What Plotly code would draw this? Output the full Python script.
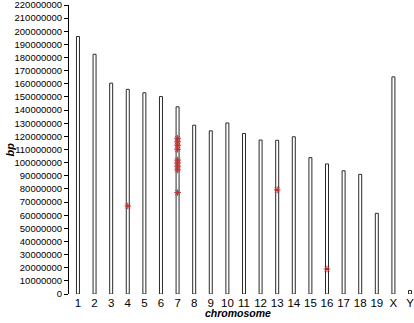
import plotly.graph_objects as go

chromosomes = ["1", "2", "3", "4", "5", "6", "7", "8", "9", "10", "11", "12",
               "13", "14", "15", "16", "17", "18", "19", "X", "Y"]
lengths_bp = [196000000, 182500000, 160500000, 155800000, 153200000, 150300000,
              142500000, 128500000, 124200000, 130200000, 122200000, 117200000,
              117000000, 119700000, 103800000, 99000000, 93800000, 91100000,
              61400000, 165300000, 2700000]

marker_chrom = ["4", "7", "7", "7", "7", "7", "7", "7", "7", "7", "13", "16"]
marker_bp = [67000000, 118500000, 115800000, 113200000, 110200000, 102000000,
             99800000, 97300000, 94500000, 77200000, 79300000, 19000000]

idx = {c: i for i, c in enumerate(chromosomes)}
xpos = list(range(len(chromosomes)))
mx = [idx[c] for c in marker_chrom]

fig = go.Figure()
fig.add_trace(go.Bar(
    x=xpos, y=lengths_bp, width=0.18,
    marker=dict(color="white", line=dict(color="#2b2b2b", width=1)),
    hoverinfo="skip", showlegend=False,
))
fig.add_trace(go.Scatter(
    x=mx, y=marker_bp, mode="markers",
    marker=dict(symbol="asterisk-open", size=5.5,
                line=dict(color="#cc2a2a", width=1), color="#cc2a2a"),
    hoverinfo="skip", showlegend=False,
))

font_family = "Liberation Sans, Arial, sans-serif"
fig.update_layout(
    width=414, height=323,
    margin=dict(l=69, r=0, t=5, b=29, autoexpand=False),
    paper_bgcolor="white", plot_bgcolor="white",
    font=dict(family=font_family, color="black"),
    xaxis=dict(
        range=[-0.54, 20.24], automargin=False,
        tickmode="array", tickvals=xpos, ticktext=chromosomes,
        showline=False, showgrid=False, zeroline=False, ticks="",
        ticklabeloverflow="allow",
        tickfont=dict(size=11.5, family=font_family, color="black"),
    ),
    yaxis=dict(
        range=[0, 220000000], dtick=10000000, tick0=0, automargin=False,
        tickformat="d",
        showline=True, linecolor="black", linewidth=1,
        ticks="outside", ticklen=4, tickcolor="black",
        showgrid=False, zeroline=False,
        ticklabeloverflow="allow",
        tickfont=dict(size=9.5, family=font_family, color="black"),
    ),
    bargap=0,
    annotations=[
        dict(text="<b><i>bp</i></b>", xref="paper", yref="paper",
             x=0, y=0.5, xshift=-60, textangle=-90, showarrow=False,
             font=dict(size=11, family=font_family, color="black"),
             xanchor="center", yanchor="middle"),
        dict(text="<b><i>chromosome</i></b>", xref="paper", yref="paper",
             x=0.49, y=0, yshift=-19, showarrow=False,
             font=dict(size=10.5, family=font_family, color="black"),
             xanchor="center", yanchor="middle"),
    ],
)

fig.write_html(
    "out.html",
    config={"displayModeBar": False, "staticPlot": True},
    post_script="document.body.style.margin='0';document.body.style.padding='0';document.body.style.overflow='hidden';",
)
